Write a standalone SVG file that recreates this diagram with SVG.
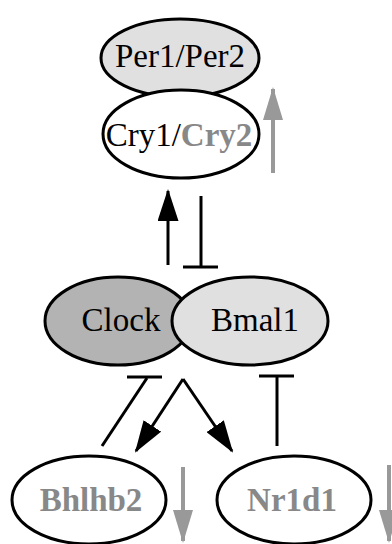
<svg xmlns="http://www.w3.org/2000/svg" width="392" height="544" viewBox="0 0 392 544">
<defs>
<style>
.t{font-family:"Liberation Serif","Times New Roman",serif;font-size:33px;text-anchor:middle;fill:#000}
.g{fill:#888;font-weight:bold}
.edge{stroke:#000;stroke-width:3;fill:none}
.gray{stroke:#999;stroke-width:4;fill:none}
</style>
<marker id="ah" markerWidth="32" markerHeight="21" refX="30" refY="10.5" viewBox="0 0 32 21" orient="auto" markerUnits="userSpaceOnUse">
<path d="M0,0 L32,10.5 L0,21 Z" fill="#000"/>
</marker>
<marker id="gh" markerWidth="33" markerHeight="20" refX="31" refY="10" viewBox="0 0 33 20" orient="auto" markerUnits="userSpaceOnUse">
<path d="M0,0 L33,10 L0,20 Z" fill="#999"/>
</marker>
</defs>
<rect width="392" height="544" fill="#fff"/>
<g id="per">
<ellipse cx="180" cy="58" rx="79" ry="39" fill="#e0e0e0" stroke="#000" stroke-width="3"/>
<text class="t" x="180" y="67">Per1/Per2</text>
</g>
<g id="cry">
<ellipse cx="181" cy="134" rx="78" ry="44" fill="#fff" stroke="#000" stroke-width="3"/>
<text class="t" x="179" y="146">Cry1/<tspan class="g">Cry2</tspan></text>
</g>
<g id="clock">
<ellipse cx="118" cy="321" rx="73" ry="44" fill="#b3b3b3" stroke="#000" stroke-width="3"/>
<text class="t" x="121" y="331">Clock</text>
</g>
<g id="bmal1">
<ellipse cx="250" cy="321" rx="78" ry="44" fill="#e0e0e0" stroke="#000" stroke-width="3"/>
<text class="t" x="255" y="331">Bmal1</text>
</g>
<g id="bhlhb2">
<ellipse cx="89" cy="500" rx="77" ry="44" fill="#fff" stroke="#000" stroke-width="3"/>
<text class="t g" x="91" y="511">Bhlhb2</text>
</g>
<g id="nr1d1">
<ellipse cx="294" cy="500" rx="77" ry="44" fill="#fff" stroke="#000" stroke-width="3"/>
<text class="t g" x="292" y="511">Nr1d1</text>
</g>
<g id="connectors">
<line class="edge" x1="168" y1="265" x2="168" y2="191" marker-end="url(#ah)"/>
<line class="edge" x1="201" y1="196" x2="201" y2="267"/>
<line class="edge" x1="183" y1="267" x2="218" y2="267"/>
<line class="edge" x1="102" y1="446" x2="147" y2="378"/>
<line class="edge" x1="127" y1="377" x2="162" y2="377"/>
<line class="edge" x1="183" y1="379" x2="136" y2="451" marker-end="url(#ah)"/>
<line class="edge" x1="183" y1="379" x2="232" y2="451" marker-end="url(#ah)"/>
<line class="edge" x1="277" y1="446" x2="277" y2="376"/>
<line class="edge" x1="259" y1="376" x2="294" y2="376"/>
<line class="gray" x1="273" y1="173" x2="273" y2="89" marker-end="url(#gh)"/>
<line class="gray" x1="183" y1="467" x2="183" y2="541" marker-end="url(#gh)"/>
<line class="gray" x1="389" y1="465" x2="389" y2="541" marker-end="url(#gh)"/>
</g>
</svg>
